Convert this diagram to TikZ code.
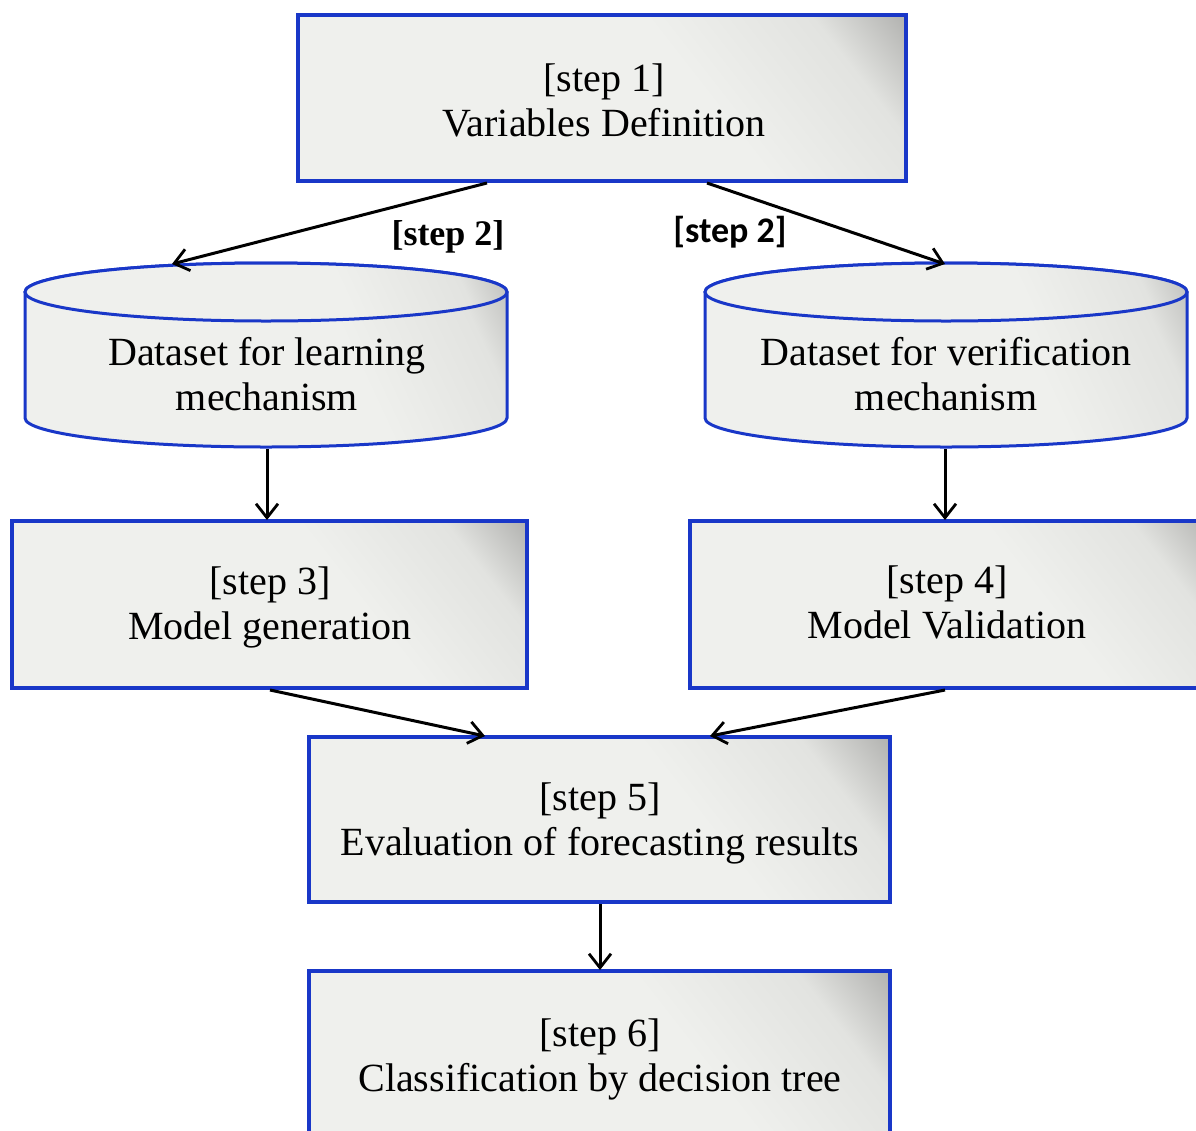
\documentclass[tikz,border=0pt]{standalone}
\usepackage{fontspec}
\setmainfont{Liberation Serif}
\newfontfamily\carlito{Carlito}
\usetikzlibrary{arrows.meta}
\definecolor{boxblue}{RGB}{25,55,200}
\definecolor{fillA}{RGB}{239,240,237}
\definecolor{fillB}{RGB}{226,227,224}
\definecolor{fillC}{RGB}{150,150,148}
\pgfdeclarehorizontalshading{boxshade}{100bp}{color(0bp)=(fillA); color(60bp)=(fillA); color(76bp)=(fillB); color(90bp)=(fillC); color(100bp)=(fillC)}
\tikzset{
  stepbox/.style={draw=boxblue, line width=3.6pt, shading=boxshade, shading angle=38},
  cylbody/.style={draw=boxblue, line width=3pt, shading=boxshade, shading angle=25},
  boxtext/.style={font=\fontsize{40}{45}\selectfont, align=center, inner sep=0pt},
  arr/.style={-{Straight Barb[length=14pt,width=22pt,line width=2.8pt]}, line width=3pt, black},
  lbl/.style={inner sep=0pt, font=\fontsize{36}{40}\selectfont\bfseries}
}
\begin{document}
\begin{tikzpicture}[x=1pt,y=-1pt]
\useasboundingbox (0,0) rectangle (1196,1130);
\clip (0,0) rectangle (1196,1130);
% boxes
\path[stepbox] (298,15) rectangle (906,181);
\node[boxtext] (s1) at (604,100) {[step 1]\\Variables Definition};
\path[stepbox] (12,521) rectangle (527,688);
\node[boxtext] (s3) at (270,607) {[step 3]\\Model generation};
\path[stepbox] (690,521) rectangle (1215,688);
\node[boxtext] (s4) at (947,602) {[step 4]\\Model Validation};
\path[stepbox] (309,737) rectangle (890,902);
\node[boxtext] (s5) at (600,823) {[step 5]\\Evaluation of forecasting results};
\path[stepbox] (309,971) rectangle (890,1160);
\node[boxtext] (s6) at (600,1059) {[step 6]\\Classification by decision tree};
% cylinders
\path[cylbody] (25,292) -- (25,418) arc[start angle=180, end angle=360, x radius=241pt, y radius=29pt]
  -- (507,292) arc[start angle=0, end angle=180, x radius=241pt, y radius=29pt] -- cycle;
\path[cylbody] (266,292) ellipse [x radius=241pt, y radius=29pt];
\node[boxtext] (d1) at (267,374) {Dataset for learning\\mechanism};
\path[cylbody] (705,292) -- (705,418) arc[start angle=180, end angle=360, x radius=241pt, y radius=29pt]
  -- (1187,292) arc[start angle=0, end angle=180, x radius=241pt, y radius=29pt] -- cycle;
\path[cylbody] (946,292) ellipse [x radius=241pt, y radius=29pt];
\node[boxtext] (d2) at (946,374) {Dataset for verification\\mechanism};
% connector end points
\coordinate (b1l) at (487,183);
\coordinate (b1r) at (707,183);
\coordinate (c1t) at (172,264);
\coordinate (c2t) at (945,264);
\coordinate (c1b) at (267,449);
\coordinate (c2b) at (945,449);
\coordinate (b3t) at (267,520);
\coordinate (b4t) at (945,520);
\coordinate (b3b) at (270,690);
\coordinate (b4b) at (945,690);
\coordinate (b5tl) at (485,736);
\coordinate (b5tr) at (710,736);
\coordinate (b5b) at (600,904);
\coordinate (b6t) at (600,970);
\draw[arr] (b1l) -- (c1t);
\draw[arr] (b1r) -- (c2t);
\draw[arr] (c1b) -- (b3t);
\draw[arr] (c2b) -- (b4t);
\draw[arr] (b3b) -- (b5tl);
\draw[arr] (b4b) -- (b5tr);
\draw[arr] (b5b) -- (b6t);
% labels
\node[lbl] (l1) at (448,237) {[step 2]};
\node[lbl, font=\fontsize{36}{40}\selectfont\carlito\bfseries] (l2) at (730,232) {[step 2]};
\end{tikzpicture}
\end{document}
